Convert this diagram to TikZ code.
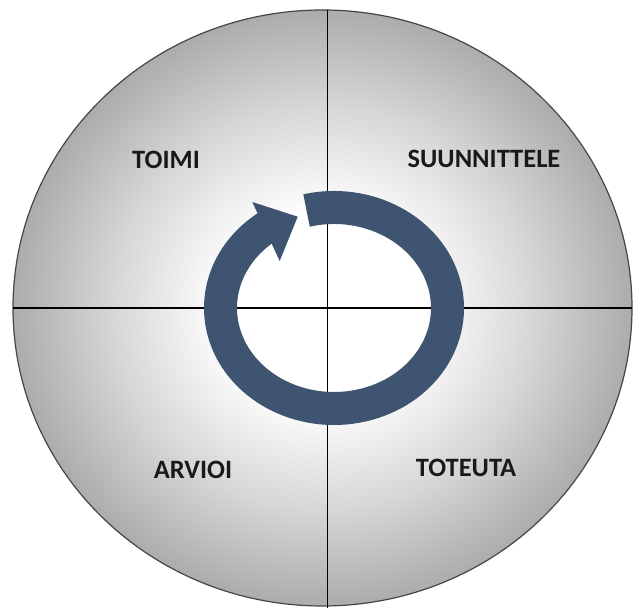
\documentclass[tikz,border=0pt]{standalone}
\usepackage{fontspec}
\setmainfont{Carlito}
\definecolor{ringblue}{RGB}{62,84,112}
\definecolor{edgegray}{RGB}{172,172,172}
\definecolor{midgray}{RGB}{214,214,214}
\definecolor{rimline}{RGB}{70,70,70}
\definecolor{quadink}{RGB}{25,25,25}
\pgfdeclareradialshading{discshade}{\pgfpoint{0bp}{0bp}}{color(0bp)=(white); color(8bp)=(white); color(17bp)=(midgray); color(25bp)=(edgegray); color(50bp)=(edgegray)}
\begin{document}
\begin{tikzpicture}[x=1pt,y=1pt,
  quadtext/.style={font=\bfseries\fontsize{26.5}{30}\selectfont, text=quadink, inner sep=0pt},
  crossline/.style={line width=1.3pt, black},
  ringstroke/.style={ringblue, line width=33pt},
  ringhead/.style={fill=ringblue, draw=none}]
\useasboundingbox (0,0) rectangle (633,608);
\fill[white] (0,0) rectangle (633,608);
% disc
\shade[shading=discshade] (322.5,300) ellipse [x radius=309.5, y radius=298];
\draw[rimline, line width=1.2pt] (322.5,300) ellipse [x radius=309.5, y radius=298];
% cross
\coordinate (vtop) at (327.5,598);
\coordinate (vbot) at (327.5,0);
\coordinate (hleft) at (13,300);
\coordinate (hright) at (632,300);
\draw[crossline] (vtop) -- (vbot);
\draw[crossline] (hleft) -- (hright);
% circular arrow
\coordinate (ringc) at (334,300);
\draw[ringstroke] (ringc) ++(104:113.5 and 100.5) arc[start angle=104, end angle=-234, x radius=113.5, y radius=100.5];
\coordinate (hb1) at (252.3,406);
\coordinate (hb2) at (279.7,347);
\coordinate (htip) at (297.7,391.3);
\fill[ringhead] (hb1) -- (htip) -- (hb2) -- cycle;
% labels
\node[quadtext] (toimi) at (166,448) {TOIMI};
\node[quadtext] (suunnittele) at (484,449) {SUUNNITTELE};
\node[quadtext] (arvioi) at (193,138) {ARVIOI};
\node[quadtext] (toteuta) at (466,140) {TOTEUTA};
\end{tikzpicture}
\end{document}
